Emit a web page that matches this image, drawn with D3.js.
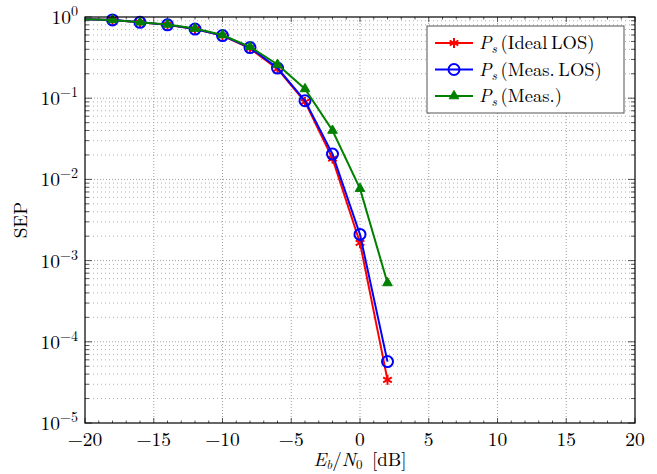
<!DOCTYPE html>
<html><head><meta charset="utf-8">
<script src="https://cdn.jsdelivr.net/npm/d3@7"></script>
<style>body{margin:0;background:#fff}svg{display:block}</style>
</head><body><svg id="c" width="657" height="474" font-family="Latin Modern Roman, CMU Serif, serif"></svg>
<script>
const ebn0 = [-20,-18,-16,-14,-12,-10,-8,-6,-4,-2,0,2];
const idealLOS = [0.94,0.92,0.86,0.80,0.71,0.59,0.41,0.23,0.090,0.018,0.00165,0.000034];
const measLOS  = [0.94,0.92,0.86,0.80,0.71,0.59,0.42,0.235,0.093,0.0205,0.0021,0.000057];
const meas     = [0.94,0.92,0.86,0.81,0.72,0.60,0.43,0.26,0.13,0.040,0.0077,0.00053];
const xTicks = [-20,-15,-10,-5,0,5,10,15,20];
const yExps = [0,-1,-2,-3,-4,-5];
const seriesNames = ["Ideal\u2009LOS","Meas.\u2009LOS","Meas."];

const svg = d3.select("#c");
const L=85,R=635,T=17,B=423;
const x = d3.scaleLinear().domain([-20,20]).range([L,R]);
const y = d3.scaleLog().domain([1e-5,1]).range([B,T]);
const g = svg.append("g");

// grid
const minorY=[];
for(let e=-5;e<0;e++) for(let k=2;k<=9;k++) minorY.push(k*Math.pow(10,e));
g.selectAll(".gy").data(minorY).enter().append("line")
 .attr("x1",L).attr("x2",R).attr("y1",d=>y(d)).attr("y2",d=>y(d))
 .attr("stroke","#b0b0b0").attr("stroke-width",1).attr("stroke-dasharray","1,3");
g.selectAll(".gY").data(yExps.slice(1,5).map(e=>Math.pow(10,e))).enter().append("line")
 .attr("x1",L).attr("x2",R).attr("y1",d=>y(d)).attr("y2",d=>y(d))
 .attr("stroke","#a0a0a0").attr("stroke-width",1).attr("stroke-dasharray","1,2");
g.selectAll(".gx").data(xTicks.slice(1,-1)).enter().append("line")
 .attr("y1",T).attr("y2",B).attr("x1",d=>x(d)).attr("x2",d=>x(d))
 .attr("stroke","#a0a0a0").attr("stroke-width",1).attr("stroke-dasharray","1,2");

// ticks (inward) on all sides
const ax = g.append("g").attr("stroke","#555").attr("stroke-width",1);
for(let v=-20;v<=20;v++){
  const len = v%5===0?5:2.5;
  ax.append("line").attr("x1",x(v)).attr("x2",x(v)).attr("y1",B).attr("y2",B-len);
  ax.append("line").attr("x1",x(v)).attr("x2",x(v)).attr("y1",T).attr("y2",T+len);
}
minorY.forEach(v=>{
  ax.append("line").attr("x1",L).attr("x2",L+4).attr("y1",y(v)).attr("y2",y(v));
  ax.append("line").attr("x1",R).attr("x2",R-4).attr("y1",y(v)).attr("y2",y(v));
});
yExps.forEach(e=>{
  const v=Math.pow(10,e);
  ax.append("line").attr("x1",L).attr("x2",L+7).attr("y1",y(v)).attr("y2",y(v));
  ax.append("line").attr("x1",R).attr("x2",R-7).attr("y1",y(v)).attr("y2",y(v));
});

// tick labels
g.selectAll(".xl").data(xTicks).enter().append("text")
 .attr("x",d=>x(d)).attr("y",B+23).attr("text-anchor","middle").attr("font-size",19.5)
 .text(d=>d<0?"\u2212"+Math.abs(d):d);
yExps.forEach(e=>{
  const t=g.append("text").attr("x",L-7).attr("y",y(Math.pow(10,e))+7)
   .attr("text-anchor","end").attr("font-size",19.5);
  t.append("tspan").text("10");
  t.append("tspan").attr("dy",-8).attr("font-size",14).text(e===0?"0":"\u2212"+Math.abs(e));
});

// axis titles
const xt=g.append("text").attr("x",x(0)).attr("y",466).attr("text-anchor","middle").attr("font-size",19);
xt.append("tspan").attr("font-style","italic").text("E");
xt.append("tspan").attr("font-style","italic").attr("font-size",13).attr("dy",3).text("b");
xt.append("tspan").attr("dy",-3).text("/");
xt.append("tspan").attr("font-style","italic").text("N");
xt.append("tspan").attr("font-size",13).attr("dy",3).text("0");
xt.append("tspan").attr("dy",-3).text("\u2002[dB]");
g.append("text").attr("transform",`translate(27,${(T+B)/2}) rotate(-90)`)
 .attr("text-anchor","middle").attr("font-size",19).text("SEP");

// series
const series=[
 {vals:idealLOS,color:"#ff0000",mark:"star"},
 {vals:measLOS,color:"#0000ff",mark:"circle"},
 {vals:meas,color:"#008000",mark:"tri"}
];
const line=d3.line().x(d=>x(d[0])).y(d=>y(d[1]));
function drawMark(sel,type,color,cx,cy){
  if(type==="circle"){
    sel.append("circle").attr("cx",cx).attr("cy",cy).attr("r",5.5).attr("fill","none").attr("stroke",color).attr("stroke-width",2);
  } else if(type==="tri"){
    const s=d3.symbol().type(d3.symbolTriangle).size(40);
    sel.append("path").attr("d",s()).attr("transform",`translate(${cx},${cy})`).attr("fill",color).attr("stroke",color).attr("stroke-width",1);
  } else {
    const r=5;
    for(let i=0;i<3;i++){
      const a=Math.PI/2+i*Math.PI/3;
      sel.append("line").attr("x1",cx-r*Math.cos(a)).attr("y1",cy-r*Math.sin(a))
       .attr("x2",cx+r*Math.cos(a)).attr("y2",cy+r*Math.sin(a)).attr("stroke",color).attr("stroke-width",2);
    }
  }
}
series.forEach(s=>{
  const pts=ebn0.map((v,i)=>[v,s.vals[i]]);
  g.append("path").attr("d",line(pts)).attr("fill","none").attr("stroke",s.color).attr("stroke-width",2);
  const mg=g.append("g");
  pts.forEach((p,i)=>{ if(i>0) drawMark(mg,s.mark,s.color,x(p[0]),y(p[1])); });
});

// frame
g.append("rect").attr("x",L).attr("y",T).attr("width",R-L).attr("height",B-T).attr("fill","none").attr("stroke","#000").attr("stroke-width",1.2);

// legend
const lg=g.append("g");
lg.append("rect").attr("x",427).attr("y",26).attr("width",197).attr("height",87).attr("fill","#fff").attr("stroke","#555").attr("stroke-width",1);
series.forEach((s,i)=>{
  const ly=43+i*26.5;
  lg.append("line").attr("x1",435).attr("x2",473).attr("y1",ly).attr("y2",ly).attr("stroke",s.color).attr("stroke-width",2);
  drawMark(lg,s.mark,s.color,454,ly);
  const t=lg.append("text").attr("x",479).attr("y",ly+6).attr("font-size",18.5);
  t.append("tspan").attr("font-style","italic").text("P");
  t.append("tspan").attr("font-style","italic").attr("font-size",13).attr("dy",4).text("s");
  t.append("tspan").attr("dy",-4).text("\u2009("+seriesNames[i]+")");
});
</script></body></html>
